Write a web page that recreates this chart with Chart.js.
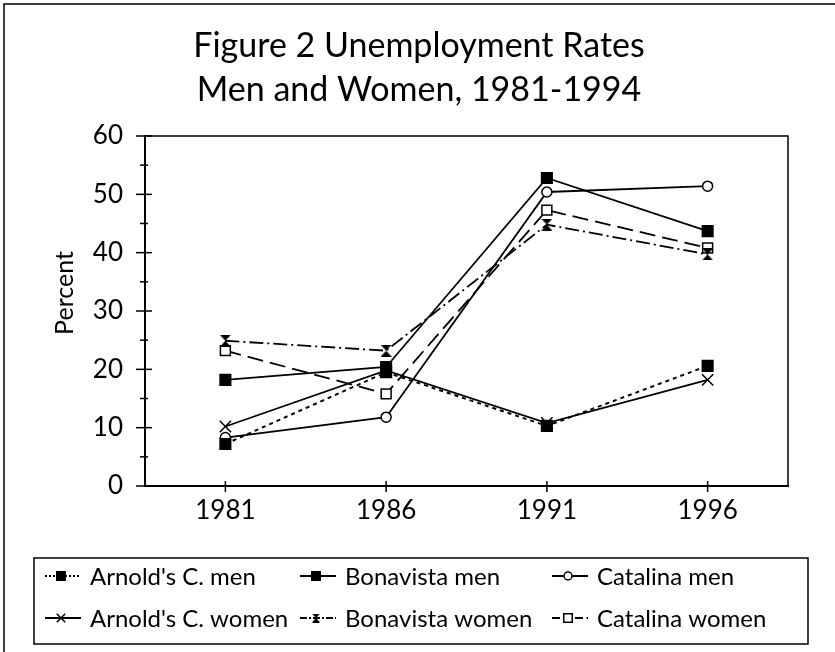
<!DOCTYPE html>
<html>
<head>
<meta charset="utf-8">
<script src="https://cdn.jsdelivr.net/npm/chart.js@4/dist/chart.umd.min.js"></script>
<style>
html,body{margin:0;padding:0;background:#fff;}
#wrap{width:835px;height:652px;position:relative;}
</style>
</head>
<body>
<div id="wrap"><canvas id="c" width="835" height="652"></canvas></div>
<script>
// ---- data ----
const titleLines = ['Figure 2 Unemployment Rates', 'Men and Women, 1981-1994'];
const yAxisTitle = 'Percent';
const years = ['1981', '1986', '1991', '1996'];
const yTicks = [0, 10, 20, 30, 40, 50, 60];
const seriesNames = ["Arnold's C. men", 'Bonavista men', 'Catalina men',
                     "Arnold's C. women", 'Bonavista women', 'Catalina women'];
const arnoldsMen     = [7.2, 19.5, 10.3, 20.6];
const bonavistaMen   = [18.2, 20.4, 52.8, 43.7];
const catalinaMen    = [8.3, 11.8, 50.4, 51.4];
const arnoldsWomen   = [10.2, 19.8, 10.8, 18.2];
const bonavistaWomen = [24.9, 23.2, 44.8, 39.7];
const catalinaWomen  = [23.2, 15.8, 47.3, 40.8];

const FONT = 'Lato, "Open Sans", sans-serif';
const INK = '#000';

// hourglass marker
function makeHourglass(w, h) {
  const c = document.createElement('canvas');
  c.width = w; c.height = h;
  const g = c.getContext('2d');
  g.fillStyle = INK;
  g.beginPath();
  g.moveTo(0, 0); g.lineTo(w, 0); g.lineTo(w / 2, h / 2); g.closePath();
  g.moveTo(0, h); g.lineTo(w, h); g.lineTo(w / 2, h / 2); g.closePath();
  g.fill();
  return c;
}
const hourglass = makeHourglass(11, 12);
const hourglassSmall = makeHourglass(8, 9);

const styles = [
  {data: arnoldsMen, dash: [4, 4], width: 2, point: 'rect', radius: 7.5, fill: INK},
  {data: bonavistaMen, dash: [], width: 1.8, point: 'rect', radius: 7.5, fill: INK},
  {data: catalinaMen, dash: [], width: 1.8, point: 'circle', radius: 5, fill: '#fff'},
  {data: arnoldsWomen, dash: [], width: 1.8, point: 'crossRot', radius: 8, fill: '#fff'},
  {data: bonavistaWomen, dash: [14, 4, 2, 4], width: 1.8, point: hourglass, radius: 6, fill: INK},
  {data: catalinaWomen, dash: [16, 7], width: 1.8, point: 'rect', radius: 7, fill: '#fff'}
];

const datasets = styles.map((s, i) => ({
  label: seriesNames[i],
  data: s.data,
  borderColor: INK,
  borderWidth: s.width,
  borderDash: s.dash,
  backgroundColor: s.fill,
  pointStyle: s.point,
  pointRadius: s.radius,
  pointHoverRadius: s.radius,
  pointBorderColor: INK,
  pointBackgroundColor: s.fill,
  pointBorderWidth: 1.5,
  tension: 0,
  fill: false
}));

function drawMarker(ctx, style, x, y, r, fill) {
  ctx.save();
  ctx.setLineDash([]);
  ctx.lineWidth = 1.5;
  ctx.strokeStyle = INK;
  ctx.fillStyle = fill;
  if (style === 'rect') {
    const s = r * Math.SQRT1_2;
    ctx.beginPath(); ctx.rect(x - s, y - s, 2 * s, 2 * s); ctx.fill(); ctx.stroke();
  } else if (style === 'circle') {
    ctx.beginPath(); ctx.arc(x, y, r, 0, Math.PI * 2); ctx.fill(); ctx.stroke();
  } else if (style === 'crossRot') {
    const o = r * Math.SQRT1_2;
    ctx.beginPath();
    ctx.moveTo(x - o, y - o); ctx.lineTo(x + o, y + o);
    ctx.moveTo(x - o, y + o); ctx.lineTo(x + o, y - o);
    ctx.stroke();
  } else {
    ctx.drawImage(hourglassSmall, x - 4, y - 4.5);
  }
  ctx.restore();
}

const decorPlugin = {
  id: 'decor',
  beforeDraw(chart) {
    const ctx = chart.ctx;
    ctx.save();
    ctx.fillStyle = '#fff';
    ctx.fillRect(0, 0, chart.width, chart.height);
    ctx.restore();
  },
  afterDraw(chart) {
    const ctx = chart.ctx;
    const a = chart.chartArea;
    const ys = chart.scales.y, xs = chart.scales.x;
    ctx.save();
    ctx.strokeStyle = INK;
    ctx.setLineDash([]);
    // outer frame (left, top)
    ctx.lineWidth = 1.5;
    ctx.beginPath();
    ctx.moveTo(4, 652); ctx.lineTo(4, 4); ctx.lineTo(835, 4);
    ctx.stroke();
    // plot box top/right
    ctx.lineWidth = 1.5;
    ctx.beginPath();
    ctx.moveTo(a.left, a.top); ctx.lineTo(a.right, a.top); ctx.lineTo(a.right, a.bottom);
    ctx.stroke();
    // crossing tick marks on y axis
    ctx.lineWidth = 1.5;
    for (let v = ys.min; v <= ys.max; v += 5) {
      const py = ys.getPixelForValue(v);
      const major = v % 10 === 0;
      const l = major ? 9 : 5;
      ctx.beginPath(); ctx.moveTo(a.left - l, py); ctx.lineTo(a.left + l - 2, py); ctx.stroke();
    }
    // crossing tick marks on x axis
    years.forEach((yr, i) => {
      const px = xs.getPixelForValue(i);
      ctx.beginPath(); ctx.moveTo(px, a.bottom - 5); ctx.lineTo(px, a.bottom + 6); ctx.stroke();
    });
    // title
    ctx.fillStyle = INK;
    ctx.textAlign = 'center';
    ctx.textBaseline = 'alphabetic';
    ctx.font = '34px ' + FONT;
    ctx.fillText(titleLines[0], 419, 57);
    ctx.fillText(titleLines[1], 419, 101);
    // y axis title
    ctx.save();
    ctx.translate(65, 293);
    ctx.rotate(-Math.PI / 2);
    ctx.textBaseline = 'middle';
    ctx.font = '25px ' + FONT;
    ctx.fillText(yAxisTitle, 0, 0);
    ctx.restore();
    // legend
    ctx.lineWidth = 1.5;
    ctx.strokeRect(34, 558, 774, 86);
    const cols = [43, 298, 550];
    const rows = [576, 618];
    ctx.font = '24px ' + FONT;
    ctx.textAlign = 'left';
    ctx.textBaseline = 'middle';
    chart.data.datasets.forEach((ds, i) => {
      const sx = cols[i % 3], sy = rows[Math.floor(i / 3)];
      const st = styles[i];
      ctx.save();
      ctx.lineWidth = st.width;
      ctx.setLineDash(st.dash.length ? st.dash.map(d => Math.max(2, d * 0.5)) : []);
      ctx.beginPath(); ctx.moveTo(sx + 2, sy); ctx.lineTo(sx + 38, sy); ctx.stroke();
      ctx.restore();
      drawMarker(ctx, st.point, sx + 18, sy, typeof st.point === 'string' ? (st.point === 'circle' ? 4 : 6) : 4, st.fill);
      ctx.fillText(ds.label, sx + 47, sy + 1);
    });
    ctx.restore();
  }
};

new Chart(document.getElementById('c'), {
  type: 'line',
  data: {labels: years, datasets: datasets},
  options: {
    responsive: false,
    animation: false,
    devicePixelRatio: 1,
    layout: {padding: {top: 136, left: 10, right: 47, bottom: 126}},
    plugins: {legend: {display: false}, title: {display: false}, tooltip: {enabled: false}},
    scales: {
      x: {
        type: 'category',
        offset: true,
        grid: {display: false, drawTicks: false},
        border: {display: true, color: INK, width: 2},
        ticks: {color: INK, font: {family: FONT, size: 26}, padding: 9, maxRotation: 0},
        afterFit(s) { s.height = 40; }
      },
      y: {
        min: 0, max: 60,
        afterBuildTicks(s) { s.ticks = yTicks.map(v => ({value: v})); },
        grid: {display: false, drawTicks: false},
        border: {display: true, color: INK, width: 2},
        ticks: {color: INK, font: {family: FONT, size: 26}, padding: 22},
        afterFit(s) { s.width = 135; }
      }
    }
  },
  plugins: [decorPlugin]
});
</script>
</body>
</html>
